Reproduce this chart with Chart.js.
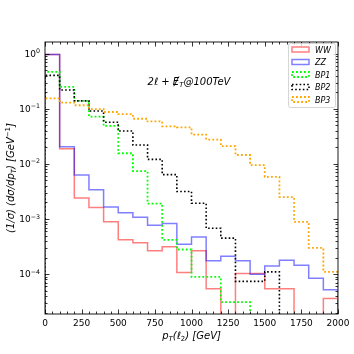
<!DOCTYPE html>
<html><head><meta charset="utf-8">
<script src="https://cdn.jsdelivr.net/npm/chart.js@4.4.0/dist/chart.umd.min.js"></script>
<style>html,body{margin:0;padding:0;background:#fff}#wrap{width:354px;height:354px}</style>
</head><body><div id="wrap"><canvas id="c" width="354" height="354"></canvas></div>
<script>
// ---- data (normalised step histograms, 100 GeV bins) ----
const binLeft = [0,100,200,300,400,500,600,700,800,900,1000,1100,1200,1300,1400,1500,1600,1700,1800,1900];
const binWidth = 100;
const seriesNames = ['WW','ZZ','BP1','BP2','BP3'];
const ww  = [0.97,0.0189,2.4e-3,1.62e-3,8.9e-4,4.2e-4,3.7e-4,2.65e-4,3.15e-4,1.07e-4,2.66e-4,5.4e-5,0,1.03e-4,1.03e-4,5.4e-5,5.4e-5,0,0,3.6e-5];
const zz  = [0.97,0.0205,6.3e-3,3.4e-3,1.66e-3,1.3e-3,1.08e-3,7.7e-4,8.3e-4,3.5e-4,4.7e-4,1.74e-4,2.1e-4,1.74e-4,1.0e-4,1.4e-4,1.78e-4,1.45e-4,8.4e-5,5.2e-5];
const bp1 = [0.466,0.249,0.139,0.072,0.049,0.0156,7.4e-3,1.9e-3,4.2e-4,2.8e-4,8.9e-5,8.9e-5,3.1e-5,3.1e-5,0,0,0,0,0,0];
const bp2 = [0.405,0.219,0.139,0.091,0.057,0.0395,0.022,0.0121,6.4e-3,3.15e-3,1.93e-3,6.8e-4,4.5e-4,7.4e-5,7.4e-5,1.1e-4,0,0,0,0];
const bp3 = [0.155,0.129,0.116,0.099,0.0875,0.080,0.066,0.059,0.048,0.046,0.034,0.0276,0.021,0.0145,9.5e-3,5.8e-3,2.5e-3,8.9e-4,3.0e-4,1.1e-4];
const xTickValues = [0,250,500,750,1000,1250,1500,1750,2000];
const xTickLabels = ['0','250','500','750','1000','1250','1500','1750','2000'];
const yTickExponents = [0,-1,-2,-3,-4];
const xRange = [0,2000];
const yRange = [1.89e-5,1.63];

// ---- styles ----
const FONT = '"DejaVu Sans", sans-serif';
const styles = [
  {color:'rgba(255,0,0,0.5)', width:1.5, dash:[]},
  {color:'rgba(0,0,255,0.5)', width:1.5, dash:[]},
  {color:'#00ff00', width:1.8, dash:[1.8,2.2]},
  {color:'#000000', width:1.6, dash:[1.6,2.2]},
  {color:'#ffa500', width:1.8, dash:[1.8,2.2]}
];
const FLOOR = 1e-9;
function stepData(vals){
  const n = vals.length;
  const pts = [{x:binLeft[0], y:FLOOR}];
  vals.forEach((v,i)=>pts.push({x:binLeft[i], y: v>0 ? v : FLOOR}));
  const last = vals[n-1] > 0 ? vals[n-1] : FLOOR;
  pts.push({x:binLeft[n-1]+binWidth, y:last});
  pts.push({x:binLeft[n-1]+binWidth, y:FLOOR});
  return pts;
}
const allSeries = [ww,zz,bp1,bp2,bp3];
const datasets = allSeries.map((vals,i)=>({
  label: seriesNames[i], data: stepData(vals), stepped:'before',
  borderColor: styles[i].color, borderWidth: styles[i].width, borderDash: styles[i].dash,
  borderCapStyle:'butt', pointRadius:0, fill:false, order: 5-i, tension:0
}));

// ---- rich text helper ----
function drawRich(ctx, segs, x, y, size, align){
  let w = 0;
  const m = segs.map(s=>{
    const fs = size*(s.s||1);
    ctx.font = (s.it?'italic ':'') + fs + 'px ' + FONT;
    const ww_ = ctx.measureText(s.t).width;
    w += ww_;
    return {fs, w:ww_};
  });
  let cx = align==='center' ? x - w/2 : (align==='right' ? x - w : x);
  segs.forEach((s,i)=>{
    ctx.font = (s.it?'italic ':'') + m[i].fs + 'px ' + FONT;
    ctx.fillText(s.t, cx, y + (s.dy||0)*size);
    if (s.slash){
      ctx.save(); ctx.lineWidth = 0.9; ctx.strokeStyle = ctx.fillStyle;
      ctx.beginPath();
      ctx.moveTo(cx + m[i].w*0.15, y + 0.12*size);
      ctx.lineTo(cx + m[i].w*0.95, y - 0.85*size);
      ctx.stroke(); ctx.restore();
    }
    cx += m[i].w;
  });
  return w;
}

const decor = {
  id:'decor',
  afterDatasetsDraw(chart){
    const ctx = chart.ctx, a = chart.chartArea;
    const xs = chart.scales.x, ys = chart.scales.y;
    ctx.save();
    ctx.fillStyle = '#000'; ctx.strokeStyle = '#000'; ctx.textBaseline = 'alphabetic';
    // frame
    ctx.lineWidth = 0.9;
    ctx.strokeRect(a.left, a.top, a.right-a.left, a.bottom-a.top);
    // x ticks (inward, top & bottom)
    ctx.lineWidth = 0.8;
    for (let v = xRange[0]; v <= xRange[1]; v += 50){
      const px = Math.round(xs.getPixelForValue(v)) + 0.5;
      const major = v % 250 === 0;
      const L = major ? 4.5 : 2.5;
      ctx.beginPath();
      ctx.moveTo(px, a.bottom); ctx.lineTo(px, a.bottom - L);
      ctx.moveTo(px, a.top); ctx.lineTo(px, a.top + L);
      ctx.stroke();
    }
    // y ticks (inward, left & right)
    for (let e = -5; e <= 0; e++){
      for (let k = 1; k <= 9; k++){
        const v = k*Math.pow(10,e);
        if (v < yRange[0] || v > yRange[1]) continue;
        const py = Math.round(ys.getPixelForValue(v)) + 0.5;
        const L = k===1 ? 4.5 : 2.5;
        ctx.beginPath();
        ctx.moveTo(a.left, py); ctx.lineTo(a.left + L, py);
        ctx.moveTo(a.right, py); ctx.lineTo(a.right - L, py);
        ctx.stroke();
      }
    }
    // x tick labels
    ctx.font = '9px ' + FONT; ctx.textAlign = 'center';
    xTickValues.forEach((v,i)=>{
      ctx.fillText(xTickLabels[i], xs.getPixelForValue(v), a.bottom + 12);
    });
    // y tick labels
    ctx.textAlign = 'left';
    yTickExponents.forEach(e=>{
      const py = ys.getPixelForValue(Math.pow(10,e));
      const ex = e===0 ? '0' : '\u2212' + (-e);
      drawRich(ctx, [{t:'10'},{t:ex, s:0.7, dy:-0.42}], a.left - 5, py + 3.3, 9, 'right');
    });
    // x axis title
    drawRich(ctx, [{t:'p',it:true},{t:'T',it:true,s:0.7,dy:0.22},{t:'(',it:true},{t:'\u2113',it:true},{t:'2',s:0.7,dy:0.22},{t:') [GeV]',it:true}],
      (a.left+a.right)/2, 339, 10, 'center');
    // y axis title
    ctx.save();
    ctx.translate(14, (a.top+a.bottom)/2);
    ctx.rotate(-Math.PI/2);
    drawRich(ctx, [{t:'(1/\u03c3) (d\u03c3/dp',it:true},{t:'T',it:true,s:0.7,dy:0.22},{t:') [GeV',it:true},{t:'\u22121',s:0.7,dy:-0.42},{t:']',it:true}],
      0, 0, 10, 'center');
    ctx.restore();
    // annotation
    drawRich(ctx, [{t:'2\u2113 + ',it:true},{t:'E',it:true,slash:true},{t:'T',it:true,s:0.7,dy:0.22},{t:'@100TeV',it:true}],
      189, 85, 10, 'center');
    // legend
    const lx = 288, ly = 43, lw = 47, lh = 64;
    ctx.beginPath();
    if (ctx.roundRect) ctx.roundRect(lx+0.5, ly+0.5, lw, lh, 2); else ctx.rect(lx+0.5, ly+0.5, lw, lh);
    ctx.fillStyle = 'rgba(255,255,255,0.8)'; ctx.fill();
    ctx.strokeStyle = '#cccccc'; ctx.lineWidth = 0.8; ctx.stroke();
    seriesNames.forEach((n,i)=>{
      const cy = ly + 6.5 + i*12.5;
      ctx.save();
      ctx.strokeStyle = styles[i].color; ctx.lineWidth = styles[i].width;
      ctx.setLineDash(styles[i].dash);
      ctx.strokeRect(lx + 4, cy - 2.5, 17, 5);
      ctx.restore();
      ctx.fillStyle = '#000';
      ctx.font = 'italic 8px ' + FONT; ctx.textAlign = 'left';
      ctx.fillText(n, lx + 27, cy + 3);
    });
    ctx.restore();
  }
};

new Chart(document.getElementById('c'), {
  type:'line',
  data:{datasets},
  options:{
    responsive:false, animation:false, devicePixelRatio:1,
    layout:{padding:{left:45, right:16, top:42, bottom:40}},
    plugins:{legend:{display:false}, tooltip:{enabled:false}},
    scales:{
      x:{type:'linear', min:xRange[0], max:xRange[1], display:false},
      y:{type:'logarithmic', min:yRange[0], max:yRange[1], display:false}
    }
  },
  plugins:[decor]
});
</script></body></html>
